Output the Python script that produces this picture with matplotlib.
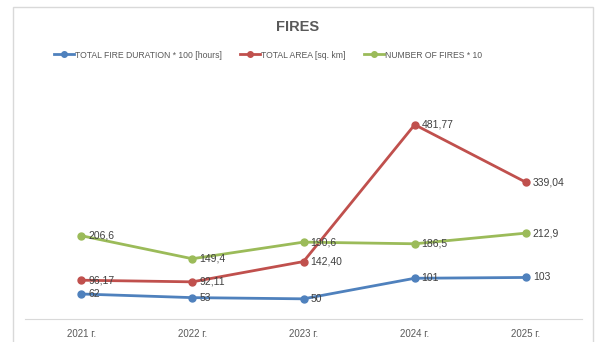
import matplotlib.pyplot as plt
from matplotlib.patches import Rectangle

years = ['2021 г.', '2022 г.', '2023 г.', '2024 г.', '2025 г.']
duration = [62, 53, 50, 101, 103]
area = [96.17, 92.11, 142.40, 481.77, 339.04]
fires = [206.6, 149.4, 190.6, 186.5, 212.9]

plt.rcParams['font.family'] = ['Liberation Sans', 'DejaVu Sans']

fig = plt.figure(figsize=(5.96, 3.42), dpi=100)
ax = fig.add_axes([25.5 / 596, 1 - 319 / 342, 556 / 596, 242 / 342])

# outer chart frame
fig.patches.append(Rectangle((13 / 596, -0.1), 580 / 596, 1.1 - 7 / 342,
                             transform=fig.transFigure, fill=False,
                             edgecolor='#d9d9d9', linewidth=1))

x = range(len(years))
series = [
    (duration, '#4f81bd', 'TOTAL FIRE DURATION * 100 [hours]', '{:.0f}'),
    (area, '#c0504d', 'TOTAL AREA [sq. km]', '{:.2f}'),
    (fires, '#9bbb59', 'NUMBER OF FIRES * 10', '{:.1f}'),
]
for vals, color, label, fmt in series:
    ax.plot(x, vals, color=color, linewidth=2, marker='o', markersize=5, label=label)
    for xi, v in zip(x, vals):
        ax.annotate(fmt.format(v).replace('.', ','), (xi, v), xytext=(5, 0),
                    textcoords='offset points', ha='left', va='center',
                    fontsize=7.5, color='#404040')

ax.set_xlim(-0.5, len(years) - 0.5)
ax.set_ylim(0, 600)
ax.set_xticks(list(x))
ax.set_xticklabels(years, fontsize=7, color='#595959')
ax.tick_params(axis='x', length=0, pad=7)
ax.set_yticks([])
for side in ['top', 'left', 'right']:
    ax.spines[side].set_visible(False)
ax.spines['bottom'].set_color('#d9d9d9')

fig.text(0.5, 1 - 27 / 342, 'FIRES', ha='center', va='center',
         fontsize=10.5, fontweight='bold', color='#595959')
fig.legend(loc='center', bbox_to_anchor=(268 / 596, 1 - 55 / 342), ncol=3,
           frameon=False, fontsize=6.2, handlelength=2.3, columnspacing=2.2,
           handletextpad=0.1, markerscale=0.8, labelcolor='#595959')

fig.savefig('out.png', dpi=100)
